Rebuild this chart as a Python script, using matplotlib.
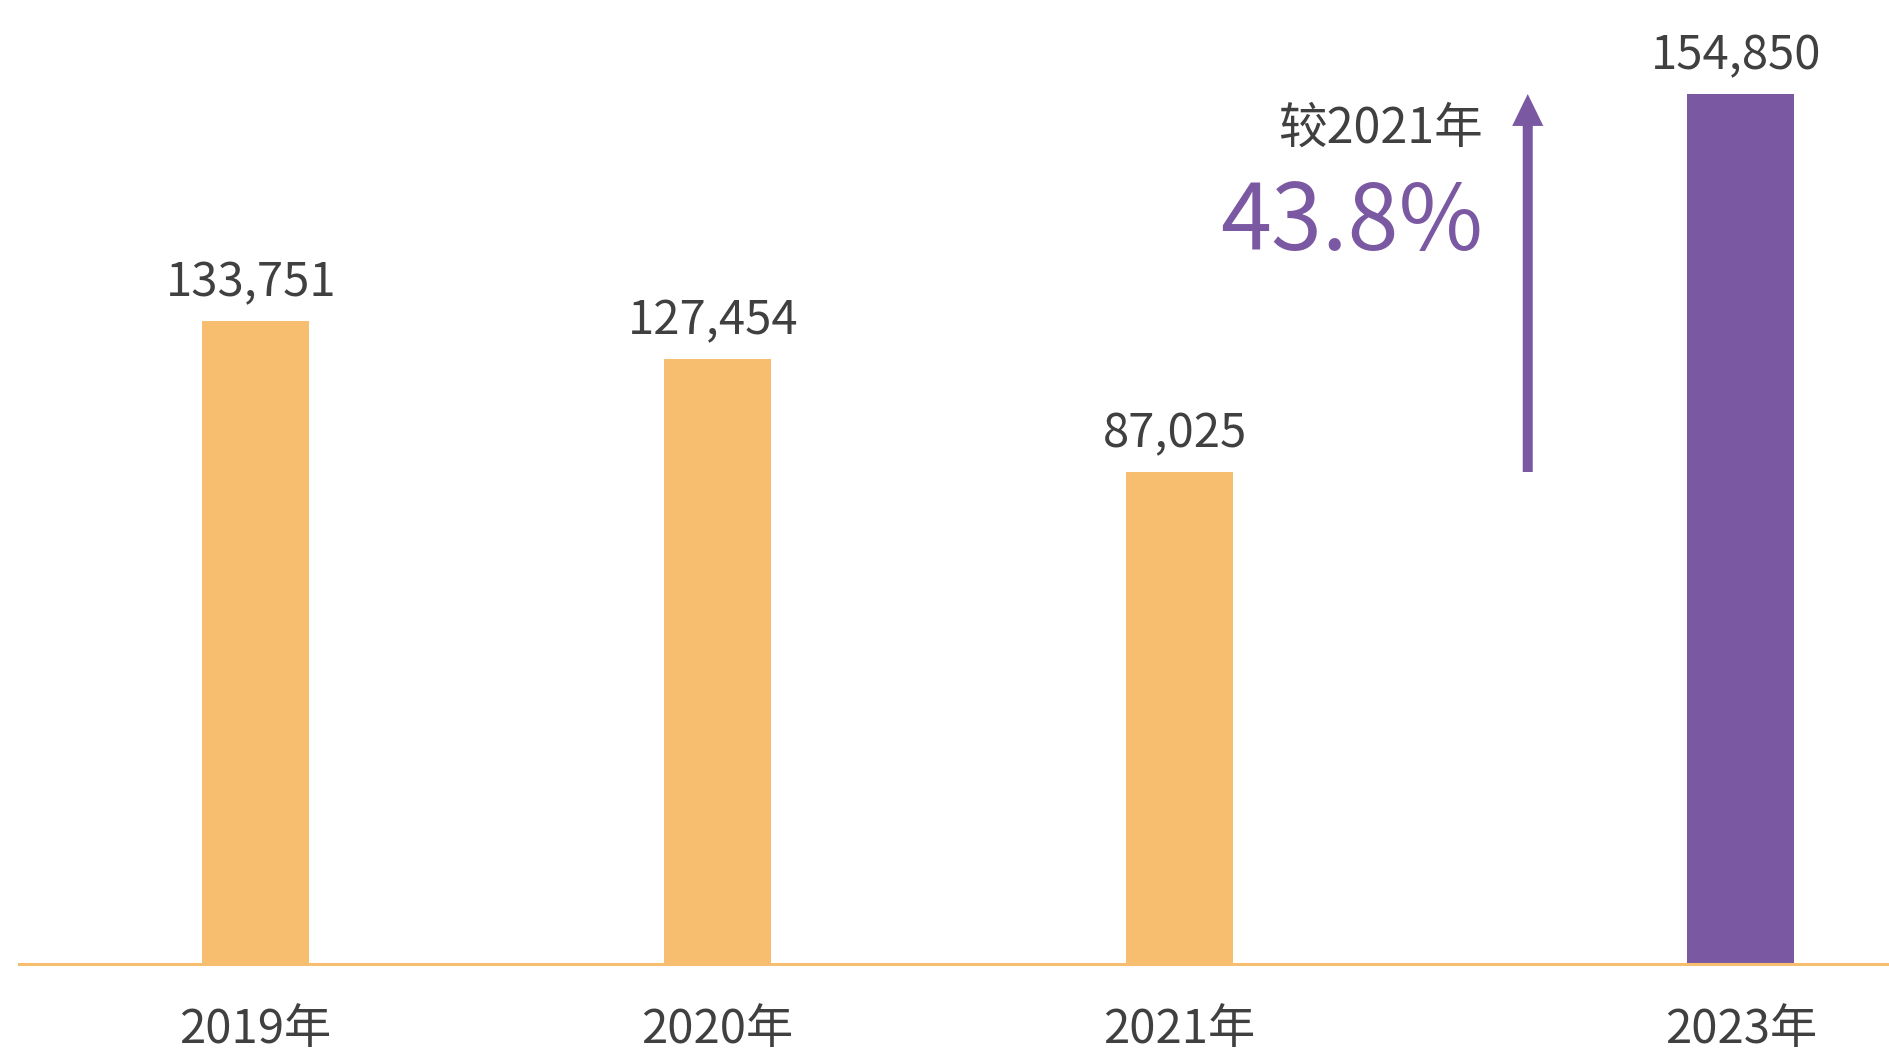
import numpy as np
import matplotlib
matplotlib.use('Agg')
import matplotlib.pyplot as plt
from matplotlib.patches import FancyArrowPatch

plt.rcParams['font.family'] = ['Noto Sans CJK SC', 'DejaVu Sans']

# 数据
years = ['2019年', '2020年', '2021年', '2023年']
values = [133751, 127454, 87025, 154850]
value_labels = ['133,751', '127,454', '87,025', '154,850']
# 原图柱子并非按比例绘制，这里按图中柱长读取
bar_heights = [114450, 107700, 87570, 154850]
growth_text = '43.8%'
growth_note = '较2021年'

# 样式
orange = '#F8BE6F'
purple = '#7B58A2'
text_gray = '#404040'
bar_colors = [orange, orange, orange, purple]
x_pos = np.array([0, 1, 2, 3.215])  # 2022年缺失，最后一根柱子右移

fig = plt.figure(figsize=(18.89, 10.52), dpi=100)
ax = fig.add_axes([19 / 1889, 88 / 1052, 1870 / 1889, 964 / 1052])

ymax = bar_heights[3] * 964 / 870
ax.bar(x_pos, bar_heights, width=0.2316, color=bar_colors, zorder=2)
ax.set_xlim(-0.512, 3.536)
ax.set_ylim(0, ymax)

# 数值标签
for xp, h, lab in zip(x_pos, bar_heights, value_labels):
    ax.annotate(lab, (xp - 0.01, h), xytext=(0, 18), textcoords='offset points',
                ha='center', va='baseline', fontsize=34, color=text_gray)

# 坐标轴
for s in ['top', 'right', 'left']:
    ax.spines[s].set_visible(False)
ax.spines['bottom'].set_color(orange)
ax.spines['bottom'].set_linewidth(2.2)
ax.spines['bottom'].set_zorder(3)
ax.set_yticks([])
ax.set_xticks(x_pos)
ax.set_xticklabels(years, fontsize=34, color=text_gray)
ax.tick_params(axis='x', length=0, pad=30)

# 增长箭头：从2021年柱顶到2023年柱顶
arrow_x = 2.754
arrow = FancyArrowPatch((arrow_x, bar_heights[2]), (arrow_x, bar_heights[3]),
                        arrowstyle='simple,head_length=1.15,head_width=1.12,tail_width=0.36',
                        mutation_scale=20, color=purple, lw=0,
                        shrinkA=0, shrinkB=0, zorder=3)
ax.add_patch(arrow)

trans = ax.get_xaxis_transform()
ax.text(arrow_x - 0.097, (964 - 143) / 964, growth_note, transform=trans,
        ha='right', va='baseline', fontsize=35, color=text_gray)
ax.text(arrow_x - 0.097, (964 - 250) / 964, growth_text, transform=trans,
        ha='right', va='baseline', fontsize=66, color=purple)

fig.savefig('out.png', dpi=100)
